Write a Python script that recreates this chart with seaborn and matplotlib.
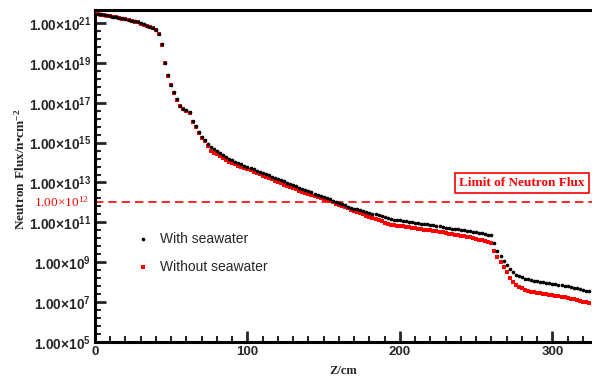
import numpy as np
import pandas as pd
import matplotlib
matplotlib.use("Agg")
import matplotlib.pyplot as plt
import matplotlib.ticker as mticker
import seaborn as sns

# ---------------- data ----------------
z_cm = list(range(0, 326, 2))

# log10 of neutron flux, with seawater (black dots)
log_with_seawater = [
    21.45, 21.44, 21.43, 21.41, 21.38, 21.34, 21.32, 21.29, 21.26, 21.23,
    21.20, 21.16, 21.12, 21.08, 21.04, 20.98, 20.93, 20.87, 20.81, 20.74,
    20.65, 20.45, 19.92, 19.00, 18.38, 17.90, 17.53, 17.17, 16.85, 16.71,
    16.63, 16.52, 16.08, 15.82, 15.55, 15.30, 15.15, 14.93, 14.76, 14.66,
    14.60, 14.49, 14.37, 14.28, 14.20, 14.12, 14.05, 13.98, 13.91, 13.85,
    13.79, 13.72, 13.66, 13.60, 13.54, 13.48, 13.42, 13.36, 13.29, 13.23,
    13.17, 13.11, 13.05, 12.99, 12.93, 12.87, 12.81, 12.74, 12.68, 12.62,
    12.56, 12.50, 12.44, 12.38, 12.32, 12.27, 12.21, 12.15, 12.09, 12.03,
    11.97, 11.91, 11.85, 11.79, 11.74, 11.69, 11.65, 11.60, 11.56, 11.51,
    11.47, 11.43, 11.40, 11.36, 11.31, 11.26, 11.21, 11.17, 11.14, 11.12,
    11.10, 11.08, 11.05, 11.03, 11.01, 10.99, 10.96, 10.94, 10.92, 10.90,
    10.87, 10.85, 10.82, 10.80, 10.77, 10.74, 10.72, 10.69, 10.67, 10.65,
    10.62, 10.60, 10.58, 10.55, 10.53, 10.50, 10.48, 10.45, 10.42, 10.39,
    10.36, 9.98, 9.55, 9.32, 9.06, 8.86, 8.65, 8.49, 8.38, 8.31,
    8.24, 8.18, 8.14, 8.11, 8.08, 8.05, 8.02, 7.99, 7.97, 7.95,
    7.93, 7.90, 7.87, 7.85, 7.82, 7.79, 7.76, 7.73, 7.70, 7.66,
    7.62, 7.58, 7.54,
]

# log10 of neutron flux, without seawater (red squares)
log_without_seawater = [
    21.44, 21.43, 21.42, 21.40, 21.37, 21.33, 21.31, 21.28, 21.25, 21.22,
    21.19, 21.15, 21.11, 21.07, 21.03, 20.97, 20.92, 20.86, 20.80, 20.73,
    20.64, 20.43, 19.90, 18.98, 18.36, 17.88, 17.51, 17.15, 16.83, 16.68,
    16.60, 16.48, 16.04, 15.78, 15.50, 15.25, 15.08, 14.82, 14.60, 14.50,
    14.43, 14.32, 14.21, 14.12, 14.04, 13.97, 13.91, 13.85, 13.79, 13.73,
    13.67, 13.61, 13.55, 13.48, 13.42, 13.35, 13.28, 13.22, 13.15, 13.08,
    13.02, 12.95, 12.89, 12.83, 12.77, 12.71, 12.65, 12.59, 12.53, 12.47,
    12.42, 12.36, 12.31, 12.26, 12.21, 12.16, 12.11, 12.05, 12.00, 11.94,
    11.88, 11.82, 11.76, 11.70, 11.63, 11.57, 11.51, 11.45, 11.40, 11.34,
    11.29, 11.24, 11.19, 11.14, 11.06, 10.99, 10.93, 10.89, 10.86, 10.84,
    10.82, 10.80, 10.77, 10.75, 10.73, 10.71, 10.69, 10.66, 10.64, 10.62,
    10.60, 10.57, 10.55, 10.52, 10.50, 10.47, 10.44, 10.42, 10.39, 10.37,
    10.34, 10.31, 10.28, 10.25, 10.22, 10.18, 10.14, 10.10, 10.06, 10.02,
    9.97, 9.58, 9.25, 8.99, 8.77, 8.50, 8.22, 8.02, 7.88, 7.78,
    7.69, 7.60, 7.55, 7.52, 7.49, 7.46, 7.44, 7.42, 7.39, 7.37,
    7.35, 7.32, 7.29, 7.27, 7.24, 7.21, 7.18, 7.14, 7.11, 7.07,
    7.03, 6.99, 6.95,
]

flux_limit = 1e12
series_labels = ["With seawater", "Without seawater"]
y_tick_exponents = [5, 7, 9, 11, 13, 15, 17, 19, 21]
x_tick_values = [0, 100, 200, 300]

# ---------------- styling ----------------
sns.set_style("ticks")
plt.rcParams["font.family"] = ["Liberation Sans", "DejaVu Sans"]
plt.rcParams["mathtext.fontset"] = "custom"
plt.rcParams["mathtext.bf"] = "Liberation Sans:bold"
plt.rcParams["mathtext.rm"] = "Liberation Serif"
plt.rcParams["mathtext.sf"] = "Liberation Serif:bold"

df = pd.DataFrame({
    "z": z_cm * 2,
    "flux": list(10 ** np.array(log_with_seawater)) + list(10 ** np.array(log_without_seawater)),
    "case": [series_labels[0]] * len(z_cm) + [series_labels[1]] * len(z_cm),
})

fig = plt.figure(figsize=(5.92, 3.78), dpi=100)
ax = fig.add_axes([95 / 592, 36 / 378, 497 / 592, 332 / 378])

# red first, black on top
sns.scatterplot(data=df[df["case"] == series_labels[1]], x="z", y="flux",
                color="#ff0000", marker="s", s=7, linewidth=0, ax=ax,
                label=series_labels[1], zorder=3)
sns.scatterplot(data=df[df["case"] == series_labels[0]], x="z", y="flux",
                color="black", marker="o", s=7, linewidth=0, ax=ax,
                label=series_labels[0], zorder=4)

ax.axhline(flux_limit, color="#ff0000", lw=1.2, ls=(0, (5, 3)), zorder=2)

ax.set_yscale("log")
ax.set_xlim(0, 326)
ax.set_ylim(1e5, 10 ** 21.65)

ax.yaxis.set_major_locator(mticker.FixedLocator([10.0 ** e for e in y_tick_exponents]))
minor_pos = [10 ** (e + f) for e in y_tick_exponents[:-1] for f in (0.4, 0.8, 1.2, 1.6)]
minor_pos += [10 ** 21.4]
ax.yaxis.set_minor_locator(mticker.FixedLocator(minor_pos))
ax.yaxis.set_major_formatter(mticker.FixedFormatter(
    [r"$\mathbf{1.00×10^{%d}}$" % e for e in y_tick_exponents]))
ax.yaxis.set_minor_formatter(mticker.NullFormatter())

ax.xaxis.set_major_locator(mticker.FixedLocator(x_tick_values))
ax.xaxis.set_minor_locator(mticker.MultipleLocator(10))
ax.set_xticklabels([str(v) for v in x_tick_values], fontweight="bold", fontsize=9.5)

ax.tick_params(axis="y", which="major", direction="in", length=8, width=2,
               labelsize=9.8, pad=3)
ax.tick_params(axis="x", which="major", direction="in", length=8, width=2,
               labelsize=9.5, pad=3)
ax.tick_params(axis="both", which="minor", direction="in", length=4, width=1.5)
ax.tick_params(axis="y", which="both", right=False)
ax.tick_params(axis="x", which="both", top=False)

for side in ["left", "bottom", "top"]:
    ax.spines[side].set_linewidth(2.2)
    ax.spines[side].set_color("black")
ax.spines["right"].set_visible(False)

ax.set_xlabel("Z/cm", family="Liberation Serif", fontweight="bold", fontsize=9, labelpad=5)
ax.set_ylabel(r"$\mathsf{Neutron\ Flux/n•cm^{-2}}$", fontsize=9.5)
ax.yaxis.set_label_coords(-0.135, 0.52)

# red limit label at the axis
ax.text(-0.012, flux_limit, r"$\mathrm{1.00×10^{12}}$", color="#ff0000", fontsize=9.5,
        transform=ax.get_yaxis_transform(), ha="right", va="center")

ax.text(0.859, 0.478, "Limit of Neutron Flux", transform=ax.transAxes,
        family="Liberation Serif", fontweight="bold", fontsize=9.5, color="#ff0000",
        ha="center", va="center",
        bbox=dict(boxstyle="square,pad=0.3", fc="white", ec="#ff0000", lw=1.2))

# order: With seawater first
handles, labels = ax.get_legend_handles_labels()
order = [labels.index(series_labels[0]), labels.index(series_labels[1])]
ax.legend([handles[i] for i in order], [labels[i] for i in order],
          loc="upper left", bbox_to_anchor=(0.053, 0.37), frameon=False,
          fontsize=10, markerscale=1.0, handletextpad=0.6, labelspacing=1.0,
          handlelength=1.3)

fig.savefig("out.png", dpi=100)
